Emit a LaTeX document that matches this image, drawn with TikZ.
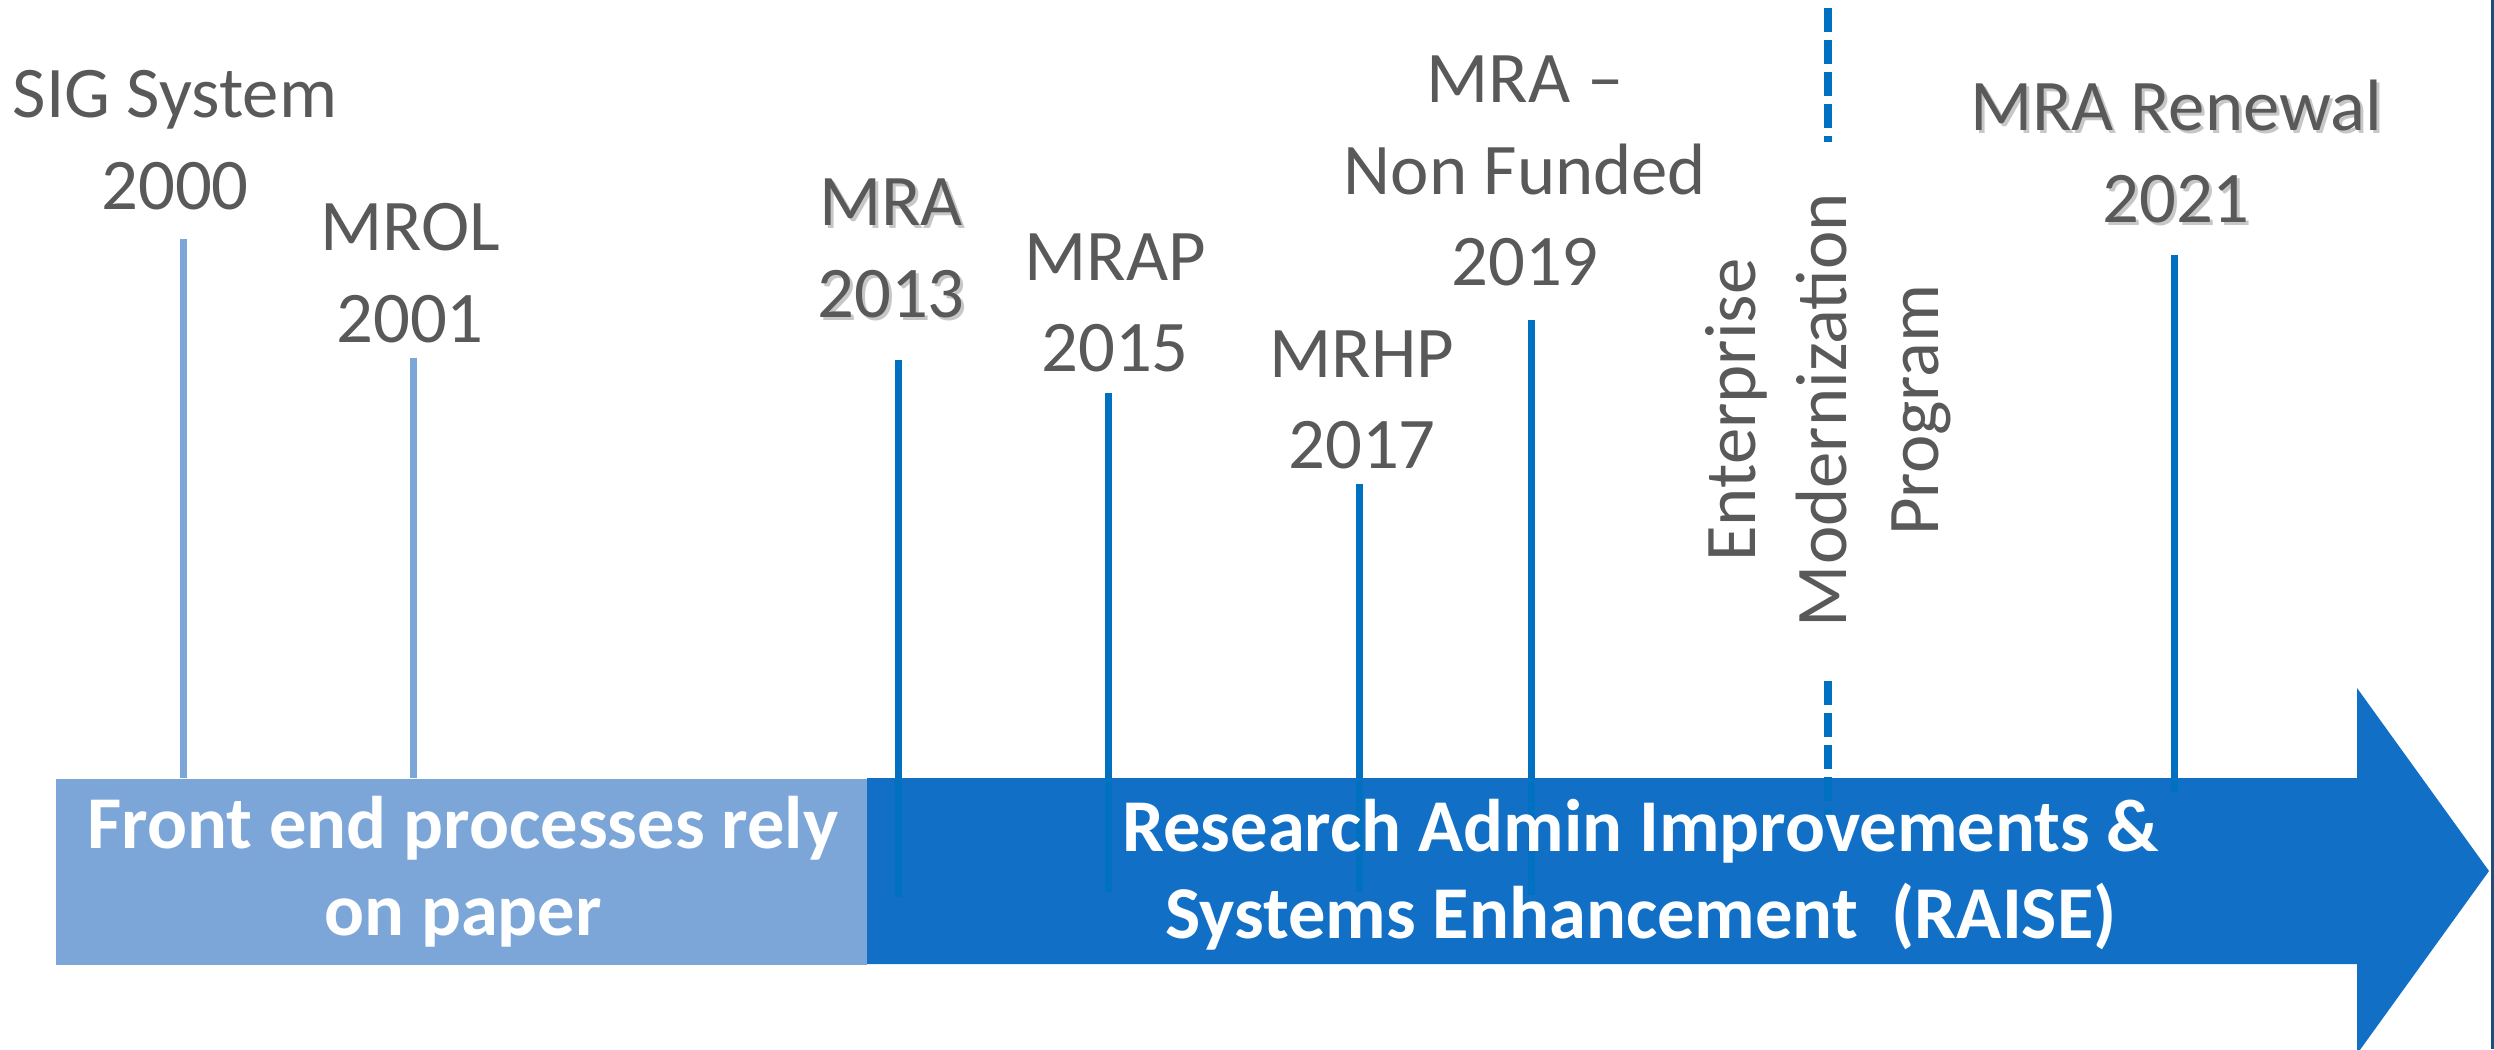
\documentclass[tikz,border=0pt]{standalone}
\usepackage{fontspec}
\setmainfont{Carlito}

\definecolor{raiseblue}{HTML}{1170C6}
\definecolor{tickblue}{HTML}{0070C0}
\definecolor{paleblue}{HTML}{7CA6D8}
\definecolor{labelgray}{HTML}{595959}
\definecolor{edgenavy}{HTML}{1F4E79}

\newcommand{\shadowed}[1]{\makebox[0pt][l]{\hspace{0.3mm}\raisebox{-0.3mm}{\textcolor{black!22}{#1}}}#1}

\begin{document}
\begin{tikzpicture}[x=0.1mm, y=-0.1mm,
    yearlabel/.style={align=center, inner sep=0pt, text=labelgray, font=\fontsize{20.7}{26}\selectfont},
    boxtext/.style={align=center, inner sep=0pt, text=white, font=\fontsize{21.2}{24.8}\selectfont\bfseries},
    paletick/.style={draw=paleblue, line width=0.7mm},
    darktick/.style={draw=tickblue, line width=0.7mm},
    dashtick/.style={draw=tickblue, line width=0.8mm, dash pattern=on 2.4mm off 0.8mm}]

         \useasboundingbox (0,0) rectangle (2494,1049);

         \node [fill=paleblue, minimum width=81.1mm, minimum height=18.6mm] (paper) at (461.5,872) {};
         \fill [raiseblue] (867,778) -- (2357,778) -- (2357,688) -- (2489,871) -- (2357,1054) -- (2357,964) -- (867,964) -- cycle;

         \coordinate (sigtop)    at (183,239);
         \coordinate (mroltop)   at (413,358);
         \coordinate (mratop)    at (898,360);
         \coordinate (mraend)    at (898,897);
         \coordinate (maptop)    at (1108,393);
         \coordinate (mapend)    at (1108,892);
         \coordinate (mhptop)    at (1359,484);
         \coordinate (mhpend)    at (1359,892);
         \coordinate (nftop)     at (1531,320);
         \coordinate (nfend)     at (1531,895);
         \coordinate (emptop)    at (1828,8);
         \coordinate (empmid)    at (1828,142);
         \coordinate (empgo)     at (1828,681);
         \coordinate (empend)    at (1828,820);
         \coordinate (rentop)    at (2174,255);
         \coordinate (renend)    at (2174,792);

         \draw [paletick] (sigtop) -- (sigtop |- paper.north);
         \draw [paletick] (mroltop) -- (mroltop |- paper.north);
         \draw [darktick] (mratop) -- (mraend);
         \draw [darktick] (maptop) -- (mapend);
         \draw [darktick] (mhptop) -- (mhpend);
         \draw [darktick] (nftop) -- (nfend);
         \draw [darktick] (rentop) -- (renend);
         \draw [dashtick] (emptop) -- (empmid);
         \draw [dashtick] (empgo) -- (empend);

         \node [boxtext] (paperlabel) at (463,872) {Front end processes rely\\on paper};
         \node [boxtext] (raise) at (1641,875) {Research Admin Improvements \&\\Systems Enhancement\ \ (RAISE)};

         \node [yearlabel] (sig)    at (175,140)  {SIG System\\2000};
         \node [yearlabel] (mrol)   at (410,273)  {MROL\\2001};
         \node [yearlabel] (mra)    at (891,250)  {\shadowed{MRA}\\\shadowed{2013}};
         \node [yearlabel] (mrap)   at (1115,303) {MRAP\\2015};
         \node [yearlabel] (mrhp)   at (1362,400) {MRHP\\2017};
         \node [yearlabel] (nonfund) at (1525,171) {MRA –\\Non Funded\\2019};
         \node [yearlabel, rotate=90] (emp) at (1828,410) {Enterprise\\Modernization\\Program};
         \node [yearlabel] (renewal) at (2176,153) {\shadowed{MRA Renewal}\\\shadowed{2021}};

         \draw [edgenavy, line width=0.3mm] (2492.5,0) -- (2492.5,1049);

\end{tikzpicture}
\end{document}
